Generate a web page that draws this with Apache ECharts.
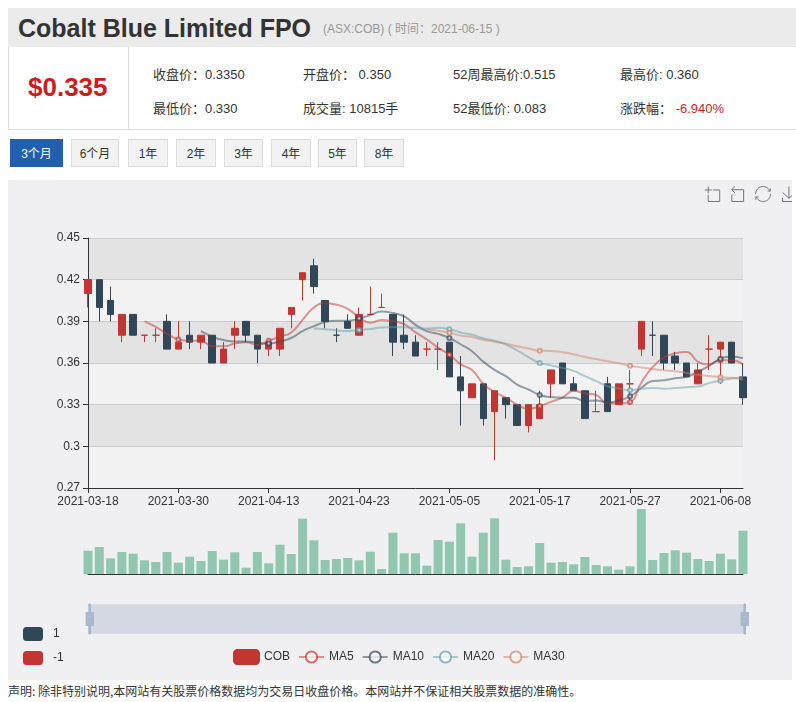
<!DOCTYPE html>
<html>
<head>
<meta charset="utf-8">
<title>Cobalt Blue Limited FPO</title>
<script src="https://cdn.jsdelivr.net/npm/echarts@6.0.0/dist/echarts.min.js"></script>
<style>
  body { margin: 0; background: #fff; width: 796px; height: 702px; overflow: hidden; position: relative;
         font-family: "Liberation Sans", "Noto Sans CJK SC", sans-serif; color: #333; }
  .titlebar { position: absolute; left: 8px; top: 8px; width: 788px; height: 39px; background: #ebebeb; }
  .title { position: absolute; left: 10px; top: 0; line-height: 41px; font-size: 25px; font-weight: bold; color: #333; }
  .sub { position: absolute; left: 315px; top: 0; line-height: 42px; font-size: 12px; color: #999; }
  .info { position: absolute; left: 8px; top: 47px; width: 788px; height: 82px; border-left: 1px solid #ddd; border-bottom: 1px solid #ddd; background: #fff; }
  .price { position: absolute; left: 19px; top: 25px; font-size: 26px; font-weight: bold; color: #cc1d1d; }
  .sep { position: absolute; left: 119px; top: 0; width: 1px; height: 82px; background: #ddd; }
  .st { position: absolute; font-size: 13px; color: #333; white-space: nowrap; }
  .red { color: #cc1d1d; }
  .btn { position: absolute; top: 139px; height: 28px; line-height: 28px; border: 1px solid #ddd; background: #f2f2f2;
         font-size: 12px; color: #333; text-align: center; box-sizing: border-box; }
  .btn.on { background: #1f60b0; border-color: #1f60b0; color: #fff; }
  .wrap { position: absolute; left: 8px; top: 180px; width: 784px; height: 500px; overflow: hidden; }
  #main { position: absolute; left: 0; top: 0; width: 792px; height: 500px; }
  .note { position: absolute; left: 8px; top: 682px; font-size: 12px; color: #333; font-family: "Noto Sans CJK SC", sans-serif; }
</style>
</head>
<body>
<div class="titlebar">
  <div class="title">Cobalt Blue Limited FPO</div>
  <div class="sub">(ASX:COB) ( 时间：2021-06-15 )</div>
</div>
<div class="info">
  <div class="price">$0.335</div>
  <div class="sep"></div>
  <div class="st" style="left:144px;top:17px">收盘价：0.3350</div>
  <div class="st" style="left:144px;top:51px">最低价：0.330</div>
  <div class="st" style="left:294px;top:17px">开盘价： 0.350</div>
  <div class="st" style="left:294px;top:51px">成交量: 10815手</div>
  <div class="st" style="left:444px;top:17px">52周最高价:0.515</div>
  <div class="st" style="left:444px;top:51px">52最低价: 0.083</div>
  <div class="st" style="left:611px;top:17px">最高价: 0.360</div>
  <div class="st" style="left:611px;top:51px">涨跌幅： <span class="red">-6.940%</span></div>
</div>
<div class="btn on" style="left:10px;width:53px">3个月</div>
<div class="btn" style="left:71px;width:48px">6个月</div>
<div class="btn" style="left:128px;width:40px">1年</div>
<div class="btn" style="left:176px;width:40px">2年</div>
<div class="btn" style="left:224px;width:39px">3年</div>
<div class="btn" style="left:271px;width:40px">4年</div>
<div class="btn" style="left:318px;width:39px">5年</div>
<div class="btn" style="left:364px;width:40px">8年</div>
<div class="wrap"><div id="main"></div></div>
<div class="note">声明: 除非特别说明,本网站有关股票价格数据均为交易日收盘价格。本网站并不保证相关股票数据的准确性。</div>

<script>
const dates = [
  '2021-03-18', '2021-03-19', '2021-03-22', '2021-03-23', '2021-03-24', '2021-03-25', '2021-03-26', '2021-03-29',
  '2021-03-30', '2021-03-31', '2021-04-01', '2021-04-06', '2021-04-07', '2021-04-08', '2021-04-09', '2021-04-12',
  '2021-04-13', '2021-04-14', '2021-04-15', '2021-04-16', '2021-04-19', '2021-04-20', '2021-04-21', '2021-04-22',
  '2021-04-23', '2021-04-26', '2021-04-27', '2021-04-28', '2021-04-29', '2021-04-30', '2021-05-03', '2021-05-04',
  '2021-05-05', '2021-05-06', '2021-05-07', '2021-05-10', '2021-05-11', '2021-05-12', '2021-05-13', '2021-05-14',
  '2021-05-17', '2021-05-18', '2021-05-19', '2021-05-20', '2021-05-21', '2021-05-24', '2021-05-25', '2021-05-26',
  '2021-05-27', '2021-05-28', '2021-05-31', '2021-06-01', '2021-06-02', '2021-06-03', '2021-06-04', '2021-06-07',
  '2021-06-08', '2021-06-09', '2021-06-10'
];

const opens = [
  0.41, 0.42, 0.405, 0.38, 0.395, 0.38, 0.38, 0.39, 0.37, 0.38,
  0.375, 0.38, 0.36, 0.38, 0.39, 0.38, 0.37, 0.37, 0.395, 0.42,
  0.43, 0.405, 0.38, 0.39, 0.38, 0.395, 0.40, 0.395, 0.38, 0.375,
  0.37, 0.37, 0.375, 0.35, 0.335, 0.345, 0.325, 0.335, 0.33, 0.315,
  0.32, 0.345, 0.36, 0.345, 0.34, 0.325, 0.345, 0.33, 0.345, 0.37,
  0.38, 0.38, 0.365, 0.36, 0.345, 0.37, 0.37, 0.375, 0.35
];
const closes = [
  0.42, 0.40, 0.395, 0.395, 0.38, 0.38, 0.38, 0.37, 0.375, 0.375,
  0.38, 0.36, 0.37, 0.385, 0.38, 0.37, 0.375, 0.385, 0.40, 0.425,
  0.415, 0.39, 0.38, 0.385, 0.395, 0.395, 0.40, 0.375, 0.375, 0.365,
  0.37, 0.37, 0.35, 0.34, 0.345, 0.32, 0.34, 0.33, 0.315, 0.33,
  0.33, 0.355, 0.345, 0.34, 0.32, 0.325, 0.325, 0.345, 0.345, 0.39,
  0.38, 0.36, 0.36, 0.35, 0.355, 0.37, 0.375, 0.36, 0.335
];
const lows = [
  0.40, 0.39, 0.39, 0.375, 0.38, 0.375, 0.375, 0.37, 0.37, 0.37,
  0.37, 0.36, 0.36, 0.37, 0.375, 0.36, 0.365, 0.365, 0.385, 0.405,
  0.41, 0.385, 0.375, 0.385, 0.38, 0.395, 0.40, 0.365, 0.37, 0.365,
  0.365, 0.355, 0.35, 0.315, 0.335, 0.315, 0.29, 0.32, 0.315, 0.31,
  0.32, 0.335, 0.345, 0.34, 0.32, 0.325, 0.325, 0.33, 0.33, 0.365,
  0.365, 0.355, 0.355, 0.35, 0.345, 0.355, 0.345, 0.36, 0.33
];
const highs = [
  0.42, 0.42, 0.415, 0.395, 0.395, 0.38, 0.385, 0.395, 0.39, 0.39,
  0.38, 0.38, 0.375, 0.39, 0.39, 0.38, 0.375, 0.385, 0.40, 0.425,
  0.435, 0.405, 0.385, 0.395, 0.40, 0.415, 0.41, 0.395, 0.395, 0.38,
  0.375, 0.375, 0.375, 0.365, 0.345, 0.345, 0.34, 0.335, 0.33, 0.33,
  0.34, 0.355, 0.36, 0.35, 0.34, 0.34, 0.35, 0.345, 0.355, 0.39,
  0.39, 0.38, 0.368, 0.36, 0.36, 0.38, 0.375, 0.375, 0.36
];
const volumes = [
  5830, 6750, 3920, 5500, 5080, 3420, 3000, 5500, 2830, 4330,
  3250, 5750, 3580, 5420, 1580, 5500, 2670, 7330, 5000, 13830,
  8420, 3500, 3750, 4000, 3420, 5580, 1250, 10330, 5170, 5170,
  2080, 8500, 8080, 12670, 4330, 10330, 13920, 3580, 1750, 1920,
  7750, 2830, 3000, 2420, 4250, 2250, 1920, 1080, 1920, 16250,
  3500, 5250, 5920, 5330, 3750, 3250, 5080, 3670, 10815
];

const ma5 = [
  '-', '-', '-', '-', '-', 0.390, 0.386, 0.381, 0.377, 0.376,
  0.376, 0.372, 0.372, 0.374, 0.375, 0.373, 0.376, 0.379, 0.382, 0.391,
  0.400, 0.403, 0.402, 0.399, 0.393, 0.389, 0.391, 0.390, 0.388, 0.382,
  0.377, 0.371, 0.366, 0.359, 0.355, 0.345, 0.339, 0.335, 0.330, 0.327,
  0.329, 0.332, 0.335, 0.340, 0.338, 0.337, 0.331, 0.331, 0.332, 0.346,
  0.357, 0.364, 0.367, 0.368, 0.361, 0.359, 0.362, 0.362, 0.359
];
const ma10 = [
  '-', '-', '-', '-', '-', '-', '-', '-', '-', '-',
  0.383, 0.379, 0.3765, 0.3755, 0.3755, 0.3745, 0.374, 0.3755, 0.378, 0.383,
  0.3865, 0.3895, 0.3905, 0.3905, 0.392, 0.3945, 0.397, 0.396, 0.3935, 0.3875,
  0.383, 0.381, 0.378, 0.3735, 0.3685, 0.361, 0.355, 0.3505, 0.3445, 0.341,
  0.337, 0.3355, 0.335, 0.335, 0.3325, 0.333, 0.3315, 0.333, 0.336, 0.342,
  0.347, 0.3475, 0.349, 0.350, 0.3535, 0.358, 0.363, 0.3645, 0.3635
];
const ma20 = [
  '-', '-', '-', '-', '-', '-', '-', '-', '-', '-',
  '-', '-', '-', '-', '-', '-', '-', '-', '-', '-',
  0.3848, 0.3843, 0.3835, 0.383, 0.3838, 0.3845, 0.3855, 0.3858, 0.3858, 0.3853,
  0.3848, 0.3853, 0.3843, 0.382, 0.3803, 0.3778, 0.376, 0.3733, 0.369, 0.3643,
  0.360, 0.3583, 0.3565, 0.3543, 0.3505, 0.347, 0.3433, 0.3418, 0.3403, 0.3415,
  0.342, 0.3415, 0.342, 0.3425, 0.343, 0.3455, 0.3473, 0.3488, 0.3498
];
const ma30 = [
  '-', '-', '-', '-', '-', '-', '-', '-', '-', '-',
  '-', '-', '-', '-', '-', '-', '-', '-', '-', '-',
  '-', '-', '-', '-', '-', '-', '-', '-', '-', '-',
  0.3842, 0.3832, 0.3817, 0.3798, 0.3787, 0.3767, 0.3753, 0.374, 0.372, 0.3705,
  0.3688, 0.3687, 0.3678, 0.3663, 0.3643, 0.3628, 0.3612, 0.3598, 0.358, 0.3568,
  0.3557, 0.3547, 0.354, 0.3528, 0.3515, 0.3507, 0.3498, 0.3493, 0.348
];

const upColor = '#c23531';
const downColor = '#314656';
const fontFamily = '"Liberation Sans", "Noto Sans CJK SC", sans-serif';

// echarts wants [open, close, low, high]
const candles = dates.map((d, i) => [opens[i], closes[i], lows[i], highs[i]]);

function maSeries(name, data, color) {
  return {
    name: name,
    type: 'line',
    data: data,
    smooth: true,
    showAllSymbol: false,
    symbol: 'emptyCircle',
    symbolSize: 4,
    itemStyle: { color: color, opacity: 0.7 },
    lineStyle: { width: 2, opacity: 0.5 }
  };
}

const myChart = echarts.init(document.getElementById('main'));
const option = {
  animation: false,
  backgroundColor: '#f0eff1',
  textStyle: { fontFamily: fontFamily },
  legend: {
    top: 464,
    left: 220,
    data: ['COB', 'MA5', 'MA10', 'MA20', 'MA30'],
    textStyle: { color: '#333', fontSize: 12 }
  },
  toolbox: {
    right: -13,
    top: -11,
    orient: 'horizontal',
    itemSize: 15,
    itemGap: 7,
    iconStyle: { borderColor: '#777' },
    feature: {
      dataZoom: { yAxisIndex: false },
      restore: {},
      saveAsImage: {}
    }
  },
  visualMap: {
    show: true,
    type: 'piecewise',
    seriesIndex: [],
    dimension: 2,
    left: 0,
    bottom: 0,
    itemWidth: 20,
    itemHeight: 14,
    itemGap: 10,
    textStyle: { color: '#333', fontSize: 12 },
    pieces: [
      { value: 1, color: downColor },
      { value: -1, color: upColor }
    ]
  },
  grid: [
    { left: 80, width: 655, top: 58, height: 250 },
    { left: 80, width: 655, top: 329, height: 65 }
  ],
  xAxis: [
    {
      type: 'category',
      data: dates,
      boundaryGap: false,
      axisLine: { onZero: false, lineStyle: { color: '#333' } },
      axisTick: { interval: 7, length: 5 },
      axisLabel: { interval: 7, color: '#333', fontSize: 12, margin: 8 },
      splitLine: { show: false }
    },
    {
      type: 'category',
      gridIndex: 1,
      data: dates,
      boundaryGap: false,
      axisLine: { onZero: false, lineStyle: { color: '#333' } },
      axisTick: { show: false },
      axisLabel: { show: false },
      splitLine: { show: false }
    }
  ],
  yAxis: [
    {
      type: 'value',
      min: 0.27,
      max: 0.45,
      interval: 0.03,
      axisLine: { show: true, lineStyle: { color: '#333' } },
      axisTick: { show: true, length: 5 },
      axisLabel: { color: '#333', fontSize: 12, margin: 8 },
      splitLine: { lineStyle: { color: '#ccc' } },
      splitArea: {
        show: true,
        areaStyle: { color: ['rgba(250,250,250,0.3)', 'rgba(200,200,200,0.3)'] }
      }
    },
    {
      type: 'value',
      gridIndex: 1,
      min: 0,
      max: 'dataMax',
      axisLine: { show: false },
      axisTick: { show: false },
      axisLabel: { show: false },
      splitLine: { show: false }
    }
  ],
  dataZoom: [
    {
      type: 'slider',
      xAxisIndex: [0, 1],
      start: 0,
      end: 100,
      left: 80,
      width: 657,
      top: 424,
      height: 30,
      showDetail: false,
      showDataShadow: false,
      brushSelect: false,
      moveHandleSize: 0,
      borderColor: '#ddd',
      borderRadius: 0,
      backgroundColor: 'rgba(47,69,84,0)',
      fillerColor: 'rgba(167,183,204,0.4)',
      handleIcon: 'path://M8.2,13.6V3.9H6.3v9.7H3.1v14.9h3.3v9.7h1.8v-9.7h3.3V13.6H8.2z M9.7,24.4H4.8v-1.4h4.9V24.4z M9.7,19.1H4.8v-1.4h4.9V19.1z',
      handleSize: '100%',
      handleStyle: { color: '#a7b7cc', borderColor: '#a7b7cc' }
    }
  ],
  series: [
    {
      name: 'COB',
      type: 'candlestick',
      data: candles,
      barWidth: 7,
      itemStyle: {
        color: upColor,
        color0: downColor,
        borderColor: upColor,
        borderColor0: downColor
      }
    },
    maSeries('MA5', ma5, '#c23531'),
    maSeries('MA10', ma10, '#2f4554'),
    maSeries('MA20', ma20, '#61a0a8'),
    maSeries('MA30', ma30, '#d48265'),
    {
      name: 'Volume',
      type: 'bar',
      xAxisIndex: 1,
      yAxisIndex: 1,
      data: volumes,
      barWidth: 9,
      itemStyle: { color: '#91c7ae' }
    }
  ]
};
myChart.setOption(option);
</script>
</body>
</html>
